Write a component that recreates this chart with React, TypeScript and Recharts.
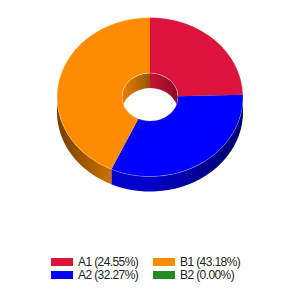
import React from "react";
import { PieChart, Pie, Cell, Legend } from "recharts";

const NAMES = ["A1", "A2", "B1", "B2"];
const VALUES = [24.55, 32.27, 43.18, 0];
const COLORS = ["#dc143c", "#0000ff", "#ff8c00", "#228b22"];

const TILT = 0.855; // vertical squash of the top face
const DEPTH = 15; // height of the side wall

const total = VALUES.reduce((a, b) => a + b, 0);
const rows = NAMES.map((name, i) => ({ name, value: VALUES[i] }));

function shade(hex: string, k: number) {
  const n = parseInt(hex.slice(1), 16);
  const r = Math.round(((n >> 16) & 255) * k);
  const g = Math.round(((n >> 8) & 255) * k);
  const b = Math.round((n & 255) * k);
  return `rgb(${r},${g},${b})`;
}

function pt(cx: number, cy: number, r: number, ang: number, dy = 0) {
  const a = (-ang * Math.PI) / 180;
  return [cx + r * Math.cos(a), cy + r * TILT * Math.sin(a) + dy];
}

// parts of [lo, hi] that fall inside [from, to] (shifted by whole turns)
function overlap(lo: number, hi: number, from: number, to: number) {
  const out: [number, number][] = [];
  for (const k of [-720, -360, 0, 360]) {
    const a = Math.max(lo, from + k);
    const b = Math.min(hi, to + k);
    if (b - a > 0.01) out.push([a, b]);
  }
  return out;
}

function wall(cx: number, cy: number, r: number, lo: number, hi: number) {
  const ry = r * TILT;
  const large = hi - lo > 180 ? 1 : 0;
  const [x1, y1] = pt(cx, cy, r, hi);
  const [x2, y2] = pt(cx, cy, r, lo);
  const [x3, y3] = pt(cx, cy, r, lo, DEPTH);
  const [x4, y4] = pt(cx, cy, r, hi, DEPTH);
  return `M${x1},${y1} A${r},${ry} 0 ${large} 1 ${x2},${y2} L${x3},${y3} A${r},${ry} 0 ${large} 0 ${x4},${y4} Z`;
}

function Slice(props: any) {
  const { cx, cy, innerRadius: ir, outerRadius: or, startAngle, endAngle } = props;
  const idx = props.index ?? COLORS.indexOf(props.fill);
  const color = COLORS[idx] ?? props.fill;
  const lo = Math.min(startAngle, endAngle);
  const hi = Math.max(startAngle, endAngle);
  if (hi - lo < 0.01) return <g />;
  const large = hi - lo > 180 ? 1 : 0;
  const [ox1, oy1] = pt(cx, cy, or, hi);
  const [ox2, oy2] = pt(cx, cy, or, lo);
  const [ix1, iy1] = pt(cx, cy, ir, hi);
  const [ix2, iy2] = pt(cx, cy, ir, lo);
  const top = `M${ox1},${oy1} A${or},${or * TILT} 0 ${large} 1 ${ox2},${oy2} L${ix2},${iy2} A${ir},${ir * TILT} 0 ${large} 0 ${ix1},${iy1} Z`;
  const rim = `M${ox1},${oy1} A${or},${or * TILT} 0 ${large} 1 ${ox2},${oy2} M${ix2},${iy2} A${ir},${ir * TILT} 0 ${large} 0 ${ix1},${iy1}`;
  const sides = overlap(lo, hi, -180, 0);
  const inner = overlap(lo, hi, 0, 180);
  const id = `s${idx}`;
  return (
    <g>
      <defs>
        <linearGradient id={`${id}-out`} gradientUnits="userSpaceOnUse" x1={cx - or} x2={cx + or} y1={0} y2={0}>
          <stop offset="0" stopColor={shade(color, 0.45)} />
          <stop offset="0.3" stopColor={shade(color, 0.82)} />
          <stop offset="0.5" stopColor={shade(color, 0.78)} />
          <stop offset="1" stopColor={shade(color, 0.42)} />
        </linearGradient>
        <linearGradient id={`${id}-in`} x1="0" x2="1" y1="0" y2="0">
          <stop offset="0" stopColor={shade(color, 0.92)} />
          <stop offset="1" stopColor={shade(color, 0.6)} />
        </linearGradient>
        <clipPath id={`${id}-hole`}>
          <ellipse cx={cx} cy={cy} rx={ir} ry={ir * TILT} />
        </clipPath>
      </defs>
      {sides.map(([a, b], i) => (
        <path key={`o${i}`} d={wall(cx, cy, or, a, b)} fill={`url(#${id}-out)`} />
      ))}
      {inner.map(([a, b], i) => (
        <path key={`i${i}`} d={wall(cx, cy, ir, a, b)} fill={`url(#${id}-in)`} clipPath={`url(#${id}-hole)`} />
      ))}
      <path d={top} fill={color} />
      <path d={rim} fill="none" stroke="rgba(255,255,255,0.35)" strokeWidth={0.7} />
    </g>
  );
}

function LegendBox() {
  return (
    <div
      style={{
        display: "grid",
        gridTemplateColumns: "102px 102px",
        gridTemplateRows: "repeat(2, 13.5px)",
        gridAutoFlow: "column",
        fontFamily: '"Liberation Sans", Arial, sans-serif',
        fontSize: 12,
        letterSpacing: -0.6,
        color: "#222",
      }}
    >
      {NAMES.map((n, i) => (
        <div key={n} style={{ display: "flex", alignItems: "center", whiteSpace: "nowrap" }}>
          <span style={{ width: 22, height: 8, background: COLORS[i], marginRight: 5, flex: "none" }} />
          {`${n} (${((VALUES[i] / total) * 100).toFixed(2)}%)`}
        </div>
      ))}
    </div>
  );
}

export default function App() {
  return (
    <div style={{ position: "absolute", left: 0, top: 0, width: 300, height: 300, background: "#fff" }}>
      <PieChart width={300} height={300} margin={{ top: 0, right: 0, bottom: 0, left: 0 }}>
        <Pie
          data={rows}
          dataKey="value"
          nameKey="name"
          cx={150}
          cy={97}
          outerRadius={93}
          innerRadius={28}
          startAngle={90}
          endAngle={-270}
          stroke="none"
          shape={Slice}
          isAnimationActive={false}
        >
          {rows.map((r, i) => (
            <Cell key={r.name} fill={COLORS[i]} />
          ))}
        </Pie>
        <Legend content={<LegendBox />} wrapperStyle={{ top: 255, left: 51, width: 220 }} />
      </PieChart>
    </div>
  );
}
